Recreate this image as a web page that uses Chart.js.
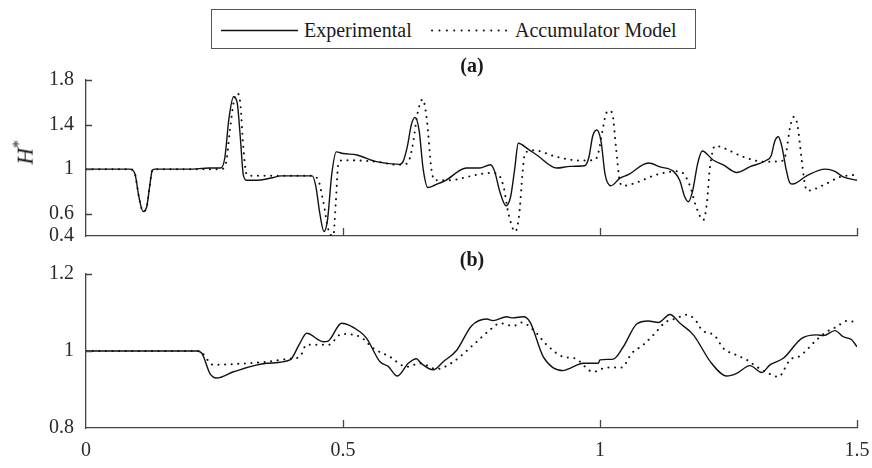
<!DOCTYPE html>
<html><head><meta charset="utf-8">
<script src="https://cdn.jsdelivr.net/npm/chart.js@4.4.1/dist/chart.umd.min.js"></script>
<style>
html,body{margin:0;padding:0;background:#fff;}
#wrap{position:relative;width:872px;height:468px;overflow:hidden;font-family:"Liberation Serif","Times New Roman",serif;color:#1a1a1a;}
canvas{position:absolute;left:0;}
#ca{top:0;} #cb{top:250px;}
.legend{position:absolute;left:211px;top:9px;width:485px;height:40px;border:1px solid #555;box-sizing:border-box;font-size:20px;background:#fff;}
.legend span{position:absolute;top:9px;line-height:22px;white-space:nowrap;}
.legend svg{position:absolute;top:18.5px;}
.ptitle{position:absolute;width:100px;text-align:center;font-weight:bold;font-size:20px;line-height:22px;}
#ylab{position:absolute;left:-3px;top:137px;width:50px;text-align:center;font-size:23px;line-height:24px;transform:rotate(-90deg);}
</style></head>
<body><div id="wrap">
<canvas id="ca" width="872" height="250"></canvas>
<canvas id="cb" width="872" height="218"></canvas>
<div class="legend">
  <svg width="77" height="3" style="left:9px"><line x1="0" y1="1.5" x2="77" y2="1.5" stroke="#111" stroke-width="1.4"/></svg>
  <span style="left:92px">Experimental</span>
  <svg width="76" height="3" style="left:219px"><line x1="1" y1="1.5" x2="76" y2="1.5" stroke="#111" stroke-width="2" stroke-linecap="round" stroke-dasharray="0.1 7.3"/></svg>
  <span style="left:303px">Accumulator Model</span>
</div>
<div class="ptitle" style="left:422px;top:54px">(a)</div>
<div class="ptitle" style="left:422px;top:248px">(b)</div>
<div id="ylab"><i>H</i><sup style="font-size:16px">*</sup></div>
</div>
<script>
// ---------- data ----------
const xTicks = [0, 0.5, 1, 1.5];
const aTicks = [0.4, 0.6, 1, 1.4, 1.8];
const bTicks = [0.8, 1, 1.2];

// Panel (a): experimental
const aExpT = [0,0.085,0.095,0.103,0.111,0.118,0.124,0.129,0.135,0.2,0.24,0.262,0.27,0.278,0.287,0.294,0.3,0.306,0.312,0.33,0.36,0.38,0.44,0.447,0.455,0.463,0.47,0.478,0.487,0.5,0.527,0.565,0.61,0.617,0.625,0.633,0.64,0.648,0.656,0.665,0.68,0.7,0.74,0.766,0.787,0.795,0.805,0.817,0.826,0.834,0.841,0.86,0.877,0.916,0.942,0.97,0.978,0.986,0.994,1.002,1.01,1.021,1.039,1.055,1.094,1.117,1.143,1.155,1.165,1.172,1.18,1.19,1.199,1.22,1.24,1.266,1.292,1.324,1.333,1.34,1.347,1.354,1.362,1.369,1.375,1.402,1.438,1.457,1.473,1.5];
const aExpH = [1.0,1.0,0.96,0.75,0.62,0.66,0.85,0.99,1.0,1.0,1.01,1.01,1.1,1.45,1.65,1.6,1.3,0.95,0.9,0.9,0.92,0.94,0.94,0.85,0.6,0.44,0.55,0.95,1.155,1.14,1.127,1.067,1.043,1.07,1.2,1.4,1.465,1.35,1.0,0.835,0.86,0.9,1.01,1.01,1.04,0.98,0.8,0.672,0.75,1.0,1.232,1.18,1.127,1.01,1.025,1.03,1.1,1.3,1.351,1.25,0.95,0.851,0.92,0.95,1.055,1.02,0.98,0.9,0.75,0.708,0.8,1.05,1.163,1.082,1.038,0.97,1.022,1.08,1.12,1.25,1.291,1.2,1.0,0.88,0.866,0.94,1.0,0.98,0.93,0.9];
// Panel (a): accumulator model
const aModT = [0,0.085,0.095,0.103,0.111,0.118,0.124,0.129,0.135,0.262,0.272,0.28,0.288,0.294,0.3,0.306,0.312,0.318,0.44,0.452,0.462,0.472,0.481,0.486,0.491,0.5,0.565,0.604,0.625,0.635,0.645,0.655,0.663,0.672,0.679,0.708,0.747,0.786,0.8,0.812,0.822,0.835,0.843,0.849,0.854,0.87,0.916,0.961,0.99,0.997,1.005,1.012,1.018,1.024,1.031,1.039,1.045,1.071,1.11,1.149,1.16,1.175,1.188,1.201,1.208,1.214,1.224,1.24,1.279,1.318,1.357,1.362,1.37,1.377,1.384,1.392,1.398,1.403,1.4345,1.467,1.5];
const aModH = [1.0,1.0,0.96,0.75,0.62,0.66,0.85,0.99,1.0,1.0,1.05,1.35,1.62,1.68,1.6,1.2,0.96,0.94,0.94,0.9,0.7,0.45,0.4,0.7,1.05,1.08,1.067,1.04,1.05,1.2,1.5,1.626,1.45,1.0,0.9,0.9,0.936,0.966,0.96,0.85,0.6,0.44,0.6,0.95,1.14,1.17,1.11,1.077,1.082,1.15,1.35,1.5,1.525,1.5,1.2,0.88,0.85,0.88,0.95,0.98,0.97,0.85,0.65,0.543,0.7,1.02,1.21,1.19,1.11,1.067,1.077,1.15,1.38,1.47,1.4,1.1,0.88,0.806,0.856,0.93,0.95];

// Panel (b): experimental
const bExpT = [0,0.215,0.225,0.241,0.254,0.287,0.3515,0.397,0.416,0.4293,0.4617,0.47,0.4974,0.533,0.546,0.572,0.588,0.6057,0.627,0.643,0.652,0.6757,0.695,0.7212,0.75,0.7796,0.792,0.8185,0.83,0.851,0.864,0.8897,0.9287,0.9416,0.9675,0.9967,1.0,1.026,1.0454,1.0714,1.094,1.1135,1.136,1.1556,1.1816,1.217,1.2465,1.266,1.2918,1.3146,1.3307,1.3566,1.3924,1.4215,1.435,1.457,1.4734,1.4896,1.5];
const bExpH = [1.0,1.0,0.995,0.942,0.930,0.946,0.968,0.977,1.02,1.046,1.024,1.025,1.072,1.05,1.033,0.972,0.96,0.935,0.968,0.98,0.968,0.951,0.972,1.002,1.065,1.083,1.079,1.089,1.086,1.089,1.075,0.985,0.949,0.955,0.968,0.968,0.977,0.979,1.011,1.07,1.078,1.074,1.095,1.072,1.042,0.968,0.935,0.942,0.962,0.944,0.964,0.981,1.033,1.042,1.04,1.053,1.037,1.029,1.011];
// Panel (b): accumulator model
const bModT = [0,0.22,0.2477,0.287,0.3515,0.397,0.416,0.429,0.4715,0.4974,0.533,0.559,0.591,0.624,0.65,0.682,0.7146,0.7535,0.786,0.8054,0.8314,0.8476,0.87,0.8963,0.9287,0.951,0.987,1.013,1.042,1.0617,1.084,1.107,1.1265,1.149,1.167,1.1848,1.198,1.2237,1.24,1.266,1.2854,1.305,1.3307,1.347,1.3696,1.389,1.4215,1.441,1.4605,1.48,1.496];
const bModH = [1.0,1.0,0.964,0.966,0.972,0.98,0.985,1.016,1.016,1.044,1.037,1.007,0.985,0.959,0.968,0.953,0.972,1.016,1.055,1.072,1.065,1.074,1.055,1.016,0.985,0.981,0.946,0.957,0.957,0.994,1.016,1.046,1.074,1.085,1.094,1.082,1.055,1.039,1.007,0.989,0.977,0.959,0.94,0.933,0.977,0.987,1.029,1.05,1.063,1.078,1.076];

// ---------- styling ----------
const FONT = '"Liberation Serif","Times New Roman",serif';
const AXIS = '#444';
const TXT = '#2a2a2a';
const pts = (t, h) => t.map((v, i) => ({x: v, y: h[i]}));

const innerTicks = {
  id: 'innerTicks',
  afterDraw(chart) {
    const {ctx, chartArea: a} = chart;
    const x = chart.scales.x, y = chart.scales.y;
    ctx.save();
    ctx.strokeStyle = AXIS; ctx.lineWidth = 1.3;
    ctx.beginPath();
    xTicks.filter(v => v > 0).forEach(v => {
      const px = Math.round(x.getPixelForValue(v)) + 0.5;
      ctx.moveTo(px, a.bottom); ctx.lineTo(px, a.bottom - 8);
    });
    y.ticks.forEach(t => {
      if (t.value === y.min) return;
      const py = Math.round(y.getPixelForValue(t.value)) + 0.5;
      ctx.moveTo(a.left, py); ctx.lineTo(a.left + 6, py);
    });
    ctx.stroke();
    ctx.restore();
  }
};

function makeChart(id, expT, expH, modT, modH, yMin, yMax, yTicks, showX, padding, xHeight) {
  return new Chart(document.getElementById(id), {
    type: 'line',
    data: {
      datasets: [
        {label: 'Experimental', data: pts(expT, expH), borderColor: '#111', borderWidth: 1.4,
         pointRadius: 0, cubicInterpolationMode: 'monotone', fill: false},
        {label: 'Accumulator Model', data: pts(modT, modH), borderColor: '#111', borderWidth: 2,
         borderDash: [0.1, 6.5], borderCapStyle: 'round', pointRadius: 0,
         cubicInterpolationMode: 'monotone', fill: false}
      ]
    },
    options: {
      responsive: false, animation: false, devicePixelRatio: 1,
      layout: {padding: padding},
      plugins: {legend: {display: false}, tooltip: {enabled: false}, title: {display: false}},
      scales: {
        x: {
          type: 'linear', min: 0, max: 1.5,
          afterBuildTicks: s => { s.ticks = xTicks.map(v => ({value: v})); },
          afterFit: s => { s.height = xHeight; s.paddingLeft = 0; s.paddingRight = 0; },
          grid: {drawOnChartArea: false, drawTicks: false},
          border: {display: true, color: AXIS, width: 1.3},
          ticks: {display: showX, padding: 11, color: TXT, font: {family: FONT, size: 20},
                  maxRotation: 0, callback: v => String(v)}
        },
        y: {
          type: 'linear', min: yMin, max: yMax,
          afterBuildTicks: s => { s.ticks = yTicks.map(v => ({value: v})); },
          afterFit: s => { s.width = 86; s.paddingTop = 0; s.paddingBottom = 0; },
          grid: {drawOnChartArea: false, drawTicks: false},
          border: {display: true, color: AXIS, width: 1.3},
          ticks: {padding: 12, color: TXT, font: {family: FONT, size: 20}, callback: v => String(v)}
        }
      }
    },
    plugins: [innerTicks]
  });
}

makeChart('ca', aExpT, aExpH, aModT, aModH, 0.4, 1.8, aTicks, false, {top: 80, bottom: 14, right: 15, left: 0}, 0);
makeChart('cb', bExpT, bExpH, bModT, bModH, 0.8, 1.2, bTicks, true, {top: 24, bottom: 0, right: 15, left: 0}, 40);
</script>
</body></html>
